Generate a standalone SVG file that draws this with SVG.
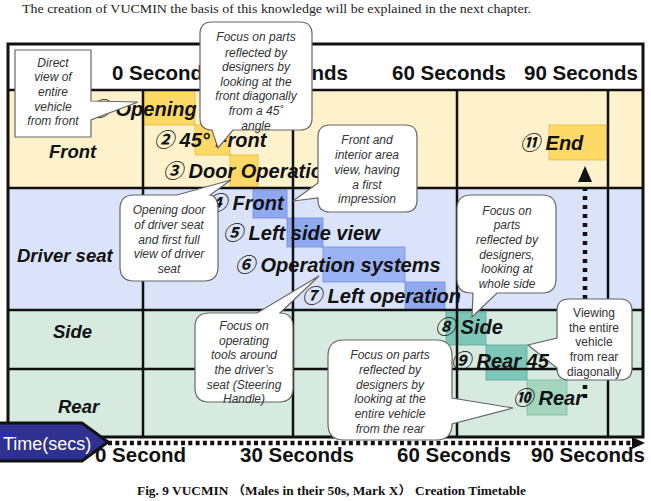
<svg xmlns="http://www.w3.org/2000/svg" width="651" height="501" viewBox="0 0 651 501">
<defs>
<style>
.hdr{font-family:"Liberation Sans",Arial,sans-serif;font-weight:bold;font-size:20.5px;fill:#111}
.row{font-family:"Liberation Sans",Arial,sans-serif;font-weight:bold;font-style:italic;font-size:18.5px;fill:#111}
.step{font-family:"Liberation Sans","Noto Sans CJK JP",sans-serif;font-weight:bold;font-style:italic;font-size:20px;fill:#111}
.co{fill:#fff;stroke:#666;stroke-width:1.2}
.ct{font-family:"Liberation Sans",Arial,sans-serif;font-style:italic;font-size:12px;fill:#333;text-anchor:middle}
.up{font-style:normal}
.grid{stroke:#111;stroke-width:2.5;fill:none}
.gold{fill:#FFD966;stroke:#e0b840;stroke-width:0.8}
.blue{fill:#8fa9f1;stroke:#6f8fe0;stroke-width:0.8}
.teal{fill:#7cc7b8;stroke:#5aa898;stroke-width:0.8}
.lgreen{fill:#a3d5bf;stroke:#7fb8a0;stroke-width:0.8}
.dots{stroke:#111;fill:none}
</style>
</defs>

<text x="22" y="13" font-family="Liberation Serif,serif" font-size="13.5" fill="#222" textLength="509" lengthAdjust="spacingAndGlyphs">The creation of VUCMIN the basis of this knowledge will be explained in the next chapter.</text>

<g id="table">
<rect x="8" y="44" width="635" height="46" fill="#fff"/>
<rect x="8" y="90" width="635" height="98" fill="#FEF2CC"/>
<rect x="8" y="188" width="635" height="122" fill="#DAE3FA"/>
<rect x="8" y="310" width="635" height="127" fill="#D6EAE0"/>
</g>

<g id="blocks">
<rect id="b1" class="gold" x="143" y="90" width="52" height="35"/>
<rect id="b2" class="gold" x="195" y="125" width="35" height="30"/>
<rect id="b3" class="gold" x="230" y="155" width="28" height="33"/>
<rect id="b4" class="blue" x="253" y="190" width="34" height="28"/>
<rect id="b5" class="blue" x="287" y="218" width="36" height="29"/>
<rect id="b6" class="blue" x="323" y="247" width="82" height="35" fill-opacity="0.85"/>
<rect id="b7" class="blue" x="405" y="282" width="40" height="28"/>
<rect id="b8" class="teal" x="446" y="312" width="40" height="33"/>
<rect id="b9" class="teal" x="486" y="345" width="41" height="35"/>
<rect id="b10" class="lgreen" x="527" y="380" width="40" height="35"/>
<rect id="b11" class="gold" x="549" y="125" width="58" height="35"/>
</g>

<g id="gridlines" class="grid">
<line x1="8" y1="90" x2="643" y2="90"/>
<line x1="8" y1="188" x2="643" y2="188"/>
<line x1="8" y1="310" x2="643" y2="310"/>
<line x1="8" y1="369" x2="643" y2="369"/>
<line x1="143" y1="90" x2="143" y2="437"/>
<line x1="293" y1="90" x2="293" y2="437"/>
<line x1="457" y1="90" x2="457" y2="437"/>
<line x1="608" y1="90" x2="608" y2="437"/>
<rect x="8" y="44" width="635" height="393" stroke-width="3"/>
</g>

<g id="rowlabels">
<text class="row" x="49" y="158">Front</text>
<text class="row" x="17" y="262">Driver seat</text>
<text class="row" x="53" y="338">Side</text>
<text class="row" x="58" y="413">Rear</text>
</g>

<g id="header">
<text class="hdr" x="112" y="80">0 Second</text>
<text class="hdr" x="234" y="80">30 Seconds</text>
<text class="hdr" x="392" y="80">60 Seconds</text>
<text class="hdr" x="524" y="80">90 Seconds</text>
</g>

<g id="steps">
<text id="s1" class="step" x="90" y="116">① Opening s</text>
<text id="s2" class="step" x="154" y="147">② 45° Front</text>
<text id="s3" class="step" x="163" y="178">③ Door Operation</text>
<text id="s4" class="step" x="207" y="210">④ Front</text>
<text id="s5" class="step" x="223" y="240">⑤ Left side view</text>
<text id="s6" class="step" x="235" y="272">⑥ Operation systems</text>
<text id="s7" class="step" x="302" y="303">⑦ Left operation</text>
<text id="s8" class="step" x="435" y="334">⑧ Side</text>
<text id="s10" class="step" x="513" y="405">⑩ Rear</text>
<text id="s11" class="step" x="520" y="150">⑪ End</text>
</g>

<g id="connectors">
<line class="dots" x1="585" y1="398" x2="585" y2="182" stroke-width="4.5" stroke-dasharray="4 5"/>
<polygon points="585,166 578,182 592,182" fill="#111"/>
<line class="dots" x1="108" y1="443" x2="632" y2="443" stroke-width="4.5" stroke-dasharray="4 3.3"/>
<polygon points="645,443 632,437 632,449" fill="#111"/>
</g>

<g id="bottomaxis">
<text class="hdr" x="95" y="462">0 Second</text>
<text class="hdr" x="240" y="462">30 Seconds</text>
<text class="hdr" x="397" y="462">60 Seconds</text>
<text class="hdr" x="531" y="462">90 Seconds</text>
</g>

<g id="time">
<polygon points="-5,423 82,423 108,442 82,461 -5,461" fill="#2e3192" stroke="#111" stroke-width="3"/>
<text x="3" y="450" font-family="Liberation Sans,Arial,sans-serif" font-size="18" fill="#fff">Time(secs)</text>
</g>

<g id="callout-a">
<path class="co" d="M15,50 H91 V101 L138,102 L91,120 V137 H15 Z"/>
<text class="ct"><tspan x="53" y="67">Direct</tspan><tspan x="53" y="81">view of</tspan><tspan x="53" y="96">entire</tspan><tspan x="53" y="111">vehicle</tspan><tspan x="53" y="125">from front</tspan></text>
</g>

<g id="callout-b">
<path class="co" d="M212,22 H300 Q312,22 312,34 V118 Q312,130 300,130 H233 L218,148 L212,130 Q200,130 200,118 V34 Q200,22 212,22 Z"/>
<text class="ct"><tspan x="256" y="41">Focus on parts</tspan><tspan x="256" y="57">reflected by</tspan><tspan x="256" y="71">designers by</tspan><tspan x="256" y="86">looking at the</tspan><tspan x="256" y="100">front diagonally</tspan><tspan x="256" y="115">from a 45˚</tspan><tspan x="256" y="130">angle</tspan></text>
</g>

<g id="callout-c">
<path class="co" d="M330,125 H405 Q417,125 417,137 V200 Q417,212 405,212 H330 Q318,212 318,200 V198 L293,201 L318,183 V137 Q318,125 330,125 Z"/>
<text class="ct"><tspan x="367" y="144">Front and</tspan><tspan x="367" y="159">interior area</tspan><tspan x="367" y="174">view, having</tspan><tspan x="367" y="189">a first</tspan><tspan x="367" y="203">impression</tspan></text>
</g>

<g id="callout-d">
<path class="co" d="M134,195 H177 L231,180 L210,195 Q218,196 218,209 V267 Q218,281 204,281 H134 Q120,281 120,267 V209 Q120,195 134,195 Z"/>
<text class="ct"><tspan x="169" y="214">Opening door</tspan><tspan x="169" y="229">of driver seat</tspan><tspan x="169" y="244">and first full</tspan><tspan x="169" y="258">view of driver</tspan><tspan x="169" y="273">seat</tspan></text>
</g>

<g id="callout-e">
<path class="co" d="M209,313 H257 L319,276 L280,313 Q293,313 293,327 V388 Q293,402 279,402 H209 Q195,402 195,388 V327 Q195,313 209,313 Z"/>
<text class="ct"><tspan x="244" y="330">Focus on</tspan><tspan x="244" y="345">operating</tspan><tspan x="244" y="359">tools around</tspan><tspan x="244" y="374">the driver’s</tspan><tspan x="244" y="389">seat (Steering</tspan><tspan x="244" y="403">Handle)</tspan></text>
</g>

<g id="callout-f">
<path class="co" d="M471,195 H542 Q556,195 556,209 V279 Q556,293 542,293 H497 L472,317 L473,293 H471 Q457,293 457,279 V209 Q457,195 471,195 Z"/>
<text class="ct"><tspan x="507" y="215">Focus on</tspan><tspan x="507" y="229">parts</tspan><tspan x="507" y="244">reflected by</tspan><tspan x="507" y="259">designers,</tspan><tspan x="507" y="273">looking at</tspan><tspan x="507" y="288">whole side</tspan></text>
</g>

<g id="callout-g">
<path class="co" d="M569,299 H620 Q632,299 632,311 V368 Q632,380 620,380 H569 Q557,380 557,368 L528,345 L557,338 V311 Q557,299 569,299 Z"/>
<text class="ct up"><tspan x="594" y="317">Viewing</tspan><tspan x="594" y="332">the entire</tspan><tspan x="594" y="346">vehicle</tspan><tspan x="594" y="361">from rear</tspan><tspan x="594" y="376">diagonally</tspan></text>
</g>

<g id="step9">
<text id="s9" class="step" x="451" y="368">⑨ Rear 45</text>
</g>

<g id="callout-h">
<path class="co" d="M344,340 H436 Q452,340 452,356 V398 L513,408 L452,424 Q452,440 436,440 H344 Q328,440 328,424 V356 Q328,340 344,340 Z"/>
<text class="ct"><tspan x="390" y="359">Focus on parts</tspan><tspan x="390" y="374">reflected by</tspan><tspan x="390" y="389">designers by</tspan><tspan x="390" y="403">looking at the</tspan><tspan x="390" y="418">entire vehicle</tspan><tspan x="390" y="433">from the rear</tspan></text>
</g>

<text x="137" y="495" font-family="Liberation Serif,'Noto Sans CJK JP',serif" font-weight="bold" font-size="12" fill="#111" textLength="389" lengthAdjust="spacingAndGlyphs">Fig. 9 VUCMIN （Males in their 50s, Mark X） Creation Timetable</text>
</svg>
